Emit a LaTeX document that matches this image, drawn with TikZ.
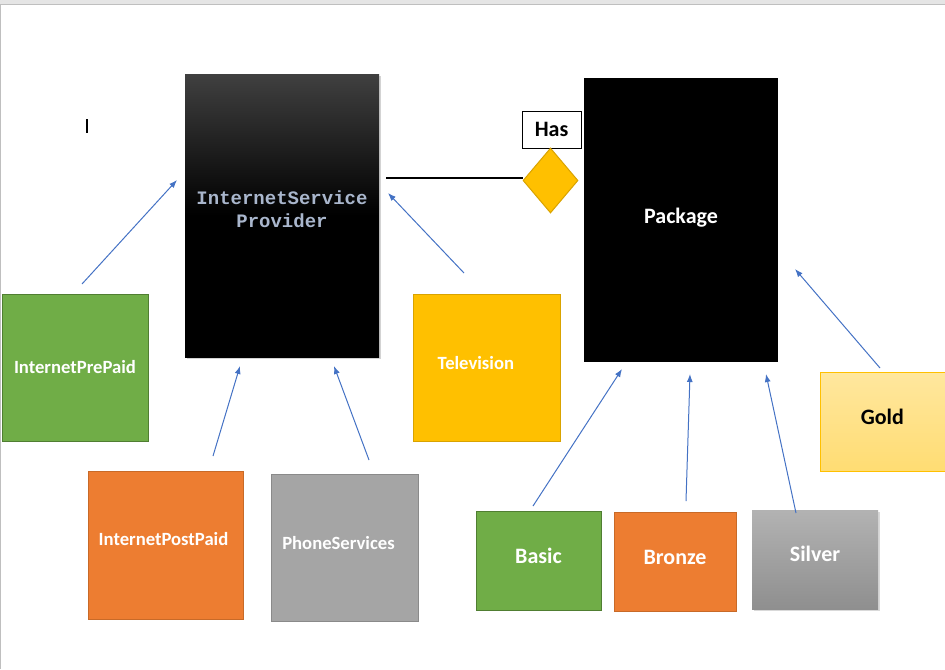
\documentclass[tikz,border=0pt]{standalone}
\usepackage{fontspec}
\setmainfont{Carlito}
\newfontfamily\ispfont{Liberation Mono}
\usetikzlibrary{shapes.geometric,shadows,arrows.meta}
\definecolor{sgreen}{HTML}{70AD47}
\definecolor{sgreenb}{HTML}{507E32}
\definecolor{sorange}{HTML}{ED7D31}
\definecolor{sorangeb}{HTML}{C86A28}
\definecolor{sgray}{HTML}{A5A5A5}
\definecolor{sgrayb}{HTML}{8A8A8A}
\definecolor{sgold}{HTML}{FFC000}
\definecolor{sgoldb}{HTML}{D9A300}
\definecolor{slink}{HTML}{4472C4}
\definecolor{isptext}{HTML}{A9B6CC}
\begin{document}
\begin{tikzpicture}[x=0.75pt,y=-0.75pt,>={Latex[length=6pt,width=4.5pt]}]
\useasboundingbox (0,0) rectangle (945,669);
% window frame
\fill[black!10] (0,0) rectangle (945,4);
\draw[black!25, line width=0.75pt] (0,4) -- (945,4);
\draw[black!25, line width=0.75pt] (0.5,4) -- (0.5,669);
\draw[line width=0.8pt] (87,119) -- (87,133);
\tikzstyle{every node} = [rectangle, inner sep=0pt, text=white, line width=0.75pt, font=\fontsize{14}{16}\selectfont\bfseries]
\node[top color=black!75, bottom color=black, middle color=black, drop shadow={opacity=0.35, shadow xshift=1.5pt, shadow yshift=-1.5pt},
  minimum width=145.5pt, minimum height=212.25pt, align=center, text=isptext, text depth=9pt,
  font=\fontsize{14.25}{17.25}\selectfont\ispfont\bfseries] (isp) at (282,215.5) {InternetService\\Provider};
\node[fill=black, minimum width=145.5pt, minimum height=213pt, text depth=6.3pt, font=\fontsize{16.5}{18}\selectfont\bfseries] (pkg) at (681,220) {Package};
\node[draw=black, fill=white, text=black, minimum width=44.25pt, minimum height=27.75pt, font=\fontsize{16.5}{18}\selectfont\bfseries] (has) at (551.5,129.5) {Has};
\node[diamond, draw=sgoldb, fill=sgold, minimum width=41.25pt, minimum height=48.75pt] (rel) at (550.5,180.5) {};
\node[draw=sgreenb, fill=sgreen, minimum width=109.5pt, minimum height=110.25pt] (pre) at (75,367.5) {InternetPrePaid};
\node[draw=sgoldb, fill=sgold, minimum width=110.25pt, minimum height=110.25pt, text depth=7.5pt] (tv) at (486.5,367.5) {Television\hspace*{16pt}};
\node[draw=sorangeb, fill=sorange, minimum width=116.25pt, minimum height=111pt, text depth=9pt] (post) at (165.5,545) {InternetPostPaid\hspace*{3pt}};
\node[draw=sgrayb, fill=sgray, minimum width=110.25pt, minimum height=110.25pt, text depth=7.5pt] (phone) at (344.5,547.5) {PhoneServices\hspace*{9pt}};
\node[draw=sgreenb, fill=sgreen, minimum width=93.75pt, minimum height=74.25pt, text depth=7.5pt, font=\fontsize{16.5}{18}\selectfont\bfseries] (basic) at (538.5,560.5) {Basic};
\node[draw=sorangeb, fill=sorange, minimum width=91.5pt, minimum height=74.25pt, text depth=6pt, font=\fontsize{16.5}{18}\selectfont\bfseries] (bronze) at (675,561.5) {Bronze};
\node[top color=black!30, bottom color=black!44, drop shadow={opacity=0.3, shadow xshift=1.5pt, shadow yshift=-1.5pt},
  minimum width=94.5pt, minimum height=74.25pt, text depth=9pt, font=\fontsize{16.5}{18}\selectfont\bfseries] (silver) at (815,559.5) {Silver};
\node[draw=sgold, top color=sgold!38, bottom color=sgold!55, text=black, minimum width=97.5pt, minimum height=74.25pt, text depth=7.5pt,
  font=\fontsize{16.5}{18}\selectfont\bfseries] (gold) at (885,421.5) {Gold\hspace*{4pt}};
\tikzstyle{every node} = []
% free ends of the links
\coordinate (pre-t) at (82,284);   \coordinate (isp-a) at (177,180);
\coordinate (post-t) at (213,456); \coordinate (isp-b) at (240,366);
\coordinate (phone-t) at (369,460);\coordinate (isp-c) at (334,366);
\coordinate (tv-t) at (464,273);   \coordinate (isp-d) at (388,193);
\coordinate (basic-t) at (533,506);  \coordinate (pkg-a) at (622,369);
\coordinate (bronze-t) at (686,501); \coordinate (pkg-b) at (690,374);
\coordinate (silver-t) at (796,513); \coordinate (pkg-c) at (766,374);
\coordinate (gold-t) at (880,368);   \coordinate (pkg-d) at (795,269);
\coordinate (isp-e) at (386,178);
\draw[line width=1.5pt] (isp-e) -- (isp-e -| rel.west);
\draw[->, slink, line width=0.75pt] (pre-t) -- (isp-a);
\draw[->, slink, line width=0.75pt] (post-t) -- (isp-b);
\draw[->, slink, line width=0.75pt] (phone-t) -- (isp-c);
\draw[->, slink, line width=0.75pt] (tv-t) -- (isp-d);
\draw[->, slink, line width=0.75pt] (basic-t) -- (pkg-a);
\draw[->, slink, line width=0.75pt] (bronze-t) -- (pkg-b);
\draw[->, slink, line width=0.75pt] (silver-t) -- (pkg-c);
\draw[->, slink, line width=0.75pt] (gold-t) -- (pkg-d);
\end{tikzpicture}
\end{document}
